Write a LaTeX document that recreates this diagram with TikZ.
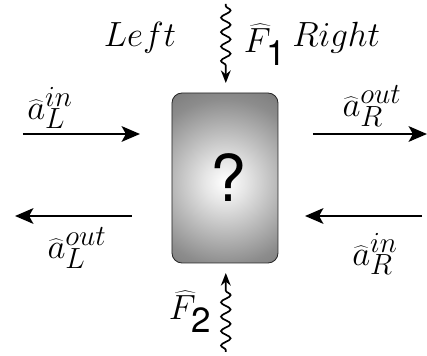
\documentclass[tikz,border=0pt]{standalone}
\usepackage{fontspec}
\newfontfamily\helv{TeX Gyre Heros}
\usetikzlibrary{positioning,arrows.meta,decorations.pathmorphing}

\pgfdeclareradialshading{boxglow}{\pgfpoint{0bp}{0bp}}{%
    color(0bp)=(white);
    color(5bp)=(black!10);
    color(20bp)=(black!45);
    color(30bp)=(black!58);
    color(42bp)=(black!72);
    color(50bp)=(black!80)}

\begin{document}
\begin{tikzpicture}[
    >={Stealth[length=13pt,width=11pt,inset=3pt]},
    port/.style={
        ->,
        line width=2pt
    },
    noise/.style={
        -{Stealth[length=9pt,width=7pt]},
        line width=1.2pt,
        decorate,
        decoration={
            snake,
            amplitude=0.12cm,
            segment length=0.36cm,
            pre length=0.05cm,
            post length=0.3cm
        }
    },
    blackbox/.style={
        draw=black!85,
        line width=0.6pt,
        rounded corners=0.25cm,
        minimum width=2.65cm,
        minimum height=4.25cm,
        path picture={
            \shade[shading=boxglow]
                ([yshift=-0.1cm]path picture bounding box.center) circle (2.6cm);
        }
    },
    lab/.style={
        font=\Huge
    }
]

\useasboundingbox (-5.625,-4.45) rectangle (5.05,4.45);

%%%%%%%%%%%%%%%%%%%%%%%%%%%%%%%%%%%%%%%%%%%%%%%%%%%%
%% The unknown system
%%%%%%%%%%%%%%%%%%%%%%%%%%%%%%%%%%%%%%%%%%%%%%%%%%%%

\node[blackbox] (box) at (0,0) {};
\node[font=\fontsize{46}{46}\selectfont\helv] (qm) at (0.08,0.02) {?};

%%%%%%%%%%%%%%%%%%%%%%%%%%%%%%%%%%%%%%%%%%%%%%%%%%%%
%% Port end points
%%%%%%%%%%%%%%%%%%%%%%%%%%%%%%%%%%%%%%%%%%%%%%%%%%%%

\coordinate (linstart)  at (-5.05,1.1);
\coordinate (linend)    at (-2.125,1.1);
\coordinate (routstart) at (2.2,1.1);
\coordinate (routend)   at (5.05,1.1);
\coordinate (loutstart) at (-2.325,-0.95);
\coordinate (loutend)   at (-5.25,-0.95);
\coordinate (rinstart)  at (4.925,-0.95);
\coordinate (rinend)    at (2.0,-0.95);

\coordinate (fonestart) at (0.02,4.35);
\coordinate (foneend)   at (0.02,2.375);
\coordinate (ftwostart) at (0.02,-4.35);
\coordinate (ftwoend)   at (0.02,-2.375);

%%%%%%%%%%%%%%%%%%%%%%%%%%%%%%%%%%%%%%%%%%%%%%%%%%%%
%% Labels
%%%%%%%%%%%%%%%%%%%%%%%%%%%%%%%%%%%%%%%%%%%%%%%%%%%%

\node[lab] (left)  at (-2.125,3.5) {$Left$};
\node[lab] (right) at (2.78,3.5) {$Right$};

\node[lab] (ain)   at (-4.375,1.75) {$\widehat{a}_L^{in}$};
\node[lab] (bout)  at (3.675,1.8) {$\widehat{a}_R^{out}$};
\node[lab] (aout)  at (-3.7,-1.75) {$\widehat{a}_L^{out}$};
\node[lab] (bin)   at (3.75,-1.9) {$\widehat{a}_R^{in}$};

\node[lab] (fone)  at (1.0,3.325) {$\widehat{F}_{\mbox{\helv 1}}$};
\node[lab] (ftwo)  at (-0.875,-3.35) {$\widehat{F}_{\mbox{\helv 2}}$};

%%%%%%%%%%%%%%%%%%%%%%%%%%%%%%%%%%%%%%%%%%%%%%%%%%%%
%% Arrows
%%%%%%%%%%%%%%%%%%%%%%%%%%%%%%%%%%%%%%%%%%%%%%%%%%%%

\draw[port] (linstart) -- (linend);
\draw[port] (routstart) -- (routend);
\draw[port] (loutstart) -- (loutend);
\draw[port] (rinstart) -- (rinend);

\draw[noise] (fonestart) -- (foneend);
\draw[noise] (ftwostart) -- (ftwoend);

\end{tikzpicture}
\end{document}
